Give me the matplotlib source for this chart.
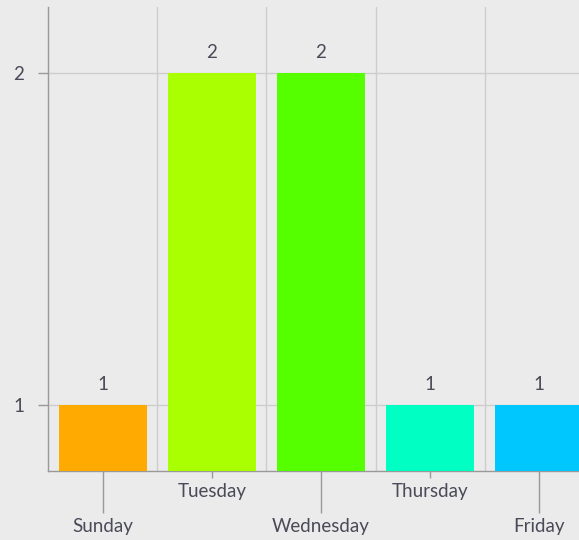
import matplotlib
matplotlib.use("Agg")
import matplotlib.pyplot as plt

# data
days = ["Sunday", "Tuesday", "Wednesday", "Thursday", "Friday"]
counts = [1, 2, 2, 1, 1]
bar_colors = ["#FFAA00", "#AAFF00", "#55FF00", "#00FFC3", "#00C8FF"]
y_ticks = [1, 2]

plt.rcParams['font.family'] = ['Lato', 'DejaVu Sans']
txt_color = "#4a4a58"
bg = "#ebebeb"
fs = 13.5

fig = plt.figure(figsize=(5.79, 5.40), dpi=100, facecolor=bg)
# axes runs past the right edge, like the cropped original
ax = fig.add_axes([48/579, 69/540, 546/579, 464.4/540], facecolor=bg)

x = list(range(len(days)))
bars = ax.bar(x, counts, width=0.807, color=bar_colors, zorder=3)
ax.bar_label(bars, labels=[str(c) for c in counts], padding=8.5,
             fontsize=fs, color=txt_color)

ax.set_xlim(-0.5, len(days) - 0.5)
ax.set_ylim(0.8, 2.2)

# grid: verticals between categories, horizontals at ticks
for b in range(1, len(days)):
    ax.axvline(b - 0.5, color="#cdcdcd", lw=1, zorder=1)
for t in y_ticks:
    ax.axhline(t, color="#cdcdcd", lw=1, zorder=1)

ax.set_yticks(y_ticks)
ax.set_yticklabels([str(t) for t in y_ticks], fontsize=fs, color=txt_color)
ax.tick_params(axis="y", length=7, width=1, color="#999999", pad=10)

# staggered x labels: long ticks for even, short for odd
ax.set_xticks(x[::2], labels=days[::2])
ax.set_xticks(x[1::2], labels=days[1::2], minor=True)
ax.tick_params(axis="x", which="major", length=30, width=1, color="#999999",
               pad=4, labelsize=fs, labelcolor=txt_color)
ax.tick_params(axis="x", which="minor", length=5, width=1, color="#999999",
               pad=4, labelsize=fs, labelcolor=txt_color)

for s in ["top", "right"]:
    ax.spines[s].set_visible(False)
for s in ["left", "bottom"]:
    ax.spines[s].set_color("#999999")
    ax.spines[s].set_linewidth(1)

fig.savefig("out.png", dpi=100, facecolor=bg)
